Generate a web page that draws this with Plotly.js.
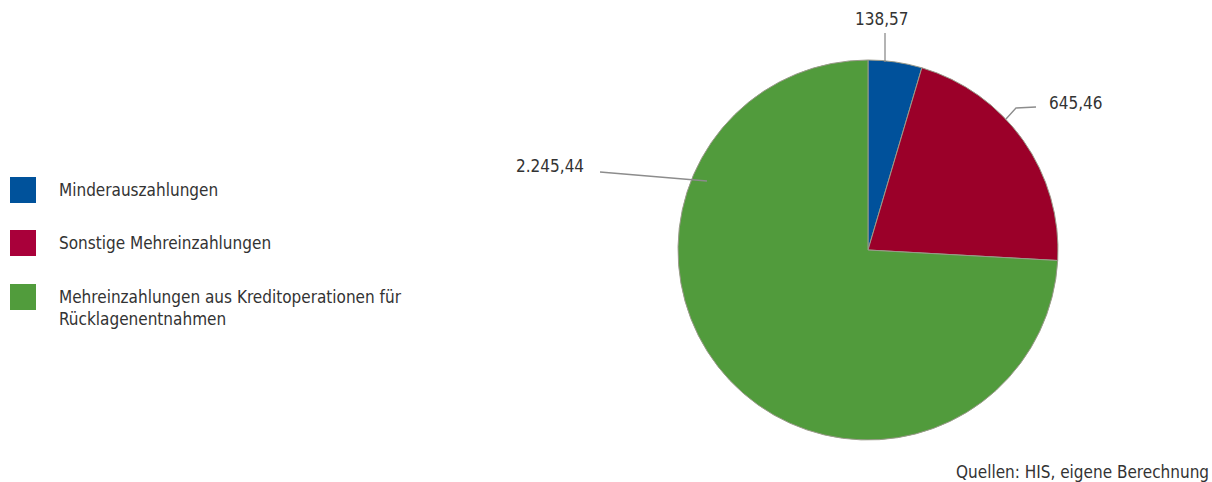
<!DOCTYPE html>
<html><head><meta charset="utf-8">
<script src="https://cdn.plot.ly/plotly-3.0.1.min.js"></script>
<style>body{margin:0;background:#fff}#c{width:1212px;height:482px}</style>
</head><body><div id="c"></div>
<script>
const categories = ["Minderauszahlungen", "Sonstige Mehreinzahlungen", "Mehreinzahlungen aus Kreditoperationen für<br>Rücklagenentnahmen"];
const values = [138.57, 645.46, 2245.44];
const valueLabels = ["138,57", "645,46", "2.245,44"];
const sliceColors = ["#00519b", "#9b0029", "#519b3c"];
const legendColors = ["#00529b", "#a9003a", "#519c3c"];
const sourceText = "Quellen: HIS, eigene Berechnung";

const W = 1212, H = 482;
const px = x => x / W, py = y => 1 - y / H;
const FONT = "DejaVu Sans Condensed, Liberation Sans Narrow, sans-serif";
const TXT = "#333333";
const FS = 17;

const trace = {
  type: "pie", values: values, labels: categories, sort: false,
  direction: "clockwise", rotation: 0,
  marker: {colors: sliceColors, line: {color: "#9a9a8a", width: 1}},
  textinfo: "none", hoverinfo: "label+value", showlegend: false,
  domain: {x: [px(678), px(1058)], y: [py(440), py(60)]}
};

const leaders = [
  [[885, 62], [885, 33]],
  [[1006, 119], [1016, 108], [1036, 107]],
  [[707, 181], [600, 172]]
];
const labelPos = [[882, 19, "center"], [1047, 103, "left"], [586, 166, "right"]];

const shapes = [], annotations = [];
leaders.forEach(pts => {
  let d = "M" + pts.map(p => px(p[0]) + "," + py(p[1])).join(" L");
  shapes.push({type: "path", xref: "paper", yref: "paper", path: d, line: {color: "#8c8c8c", width: 1.3}});
});
valueLabels.forEach((t, i) => {
  const [x, y, a] = labelPos[i];
  annotations.push({xref: "paper", yref: "paper", x: px(x), y: py(y), xanchor: a, yanchor: "middle",
    text: t, showarrow: false, font: {family: FONT, size: FS, color: TXT}});
});
const legY = [190, 243, 297];
categories.forEach((c, i) => {
  const y = legY[i];
  shapes.push({type: "rect", xref: "paper", yref: "paper", x0: px(10), x1: px(36), y0: py(y - 13), y1: py(y + 13),
    fillcolor: legendColors[i], line: {width: 0}});
  annotations.push({xref: "paper", yref: "paper", x: px(57), y: py(y - 12), xanchor: "left", yanchor: "top", align: "left",
    text: c, showarrow: false, font: {family: FONT, size: FS, color: TXT}});
});
annotations.push({xref: "paper", yref: "paper", x: px(1211), y: py(472), xanchor: "right", yanchor: "middle",
  text: sourceText, showarrow: false, font: {family: FONT, size: FS, color: TXT}});

Plotly.newPlot("c", [trace], {
  width: W, height: H, margin: {l: 0, r: 0, t: 0, b: 0},
  paper_bgcolor: "#fff", plot_bgcolor: "#fff", showlegend: false,
  shapes: shapes, annotations: annotations
}, {displayModeBar: false, staticPlot: true});
</script></body></html>
